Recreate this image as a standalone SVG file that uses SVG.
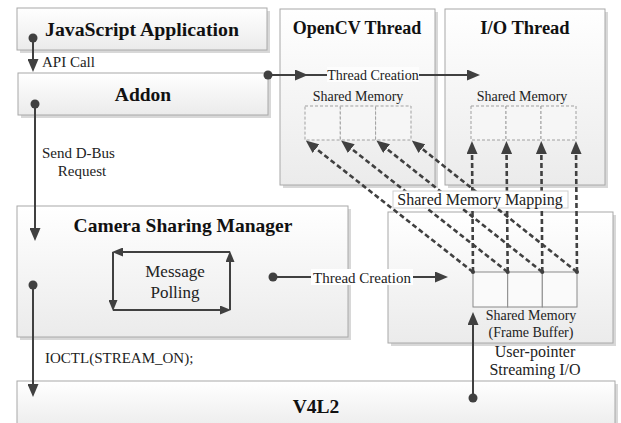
<svg xmlns="http://www.w3.org/2000/svg" width="621" height="423" viewBox="0 0 621 423">
<defs>
<linearGradient id="g" x1="0" y1="0" x2="0" y2="1">
<stop offset="0" stop-color="#ffffff"/>
<stop offset="1" stop-color="#ebebeb"/>
</linearGradient>
<marker id="ah" markerUnits="userSpaceOnUse" markerWidth="13" markerHeight="11" refX="7" refY="5.5" orient="auto" viewBox="0 0 13 11">
<path d="M0,0 L13,5.5 L0,11 Z" fill="#404040"/>
</marker>
<marker id="ahs" markerUnits="userSpaceOnUse" markerWidth="11" markerHeight="9" refX="5" refY="4.5" orient="auto" viewBox="0 0 11 9">
<path d="M0,0 L11,4.5 L0,9 Z" fill="#404040"/>
</marker>
</defs>
<style>
.box{fill:url(#g);stroke:#a8a8a8;stroke-width:1}
.sh{fill:#d8d8d8}
text{font-family:'Liberation Serif',serif}
.title{font-weight:bold;font-size:19.5px;fill:#111;text-anchor:middle}
.t{font-size:15px;fill:#222}
.c{text-anchor:middle}
.ln{stroke:#404040;stroke-width:2;fill:none}
.dl{stroke:#404040;stroke-width:2.6;fill:none;stroke-dasharray:5 3}
.dot{fill:#404040}
.cell{fill:#f6f6f6;stroke:#a0a0a0;stroke-width:1;stroke-dasharray:3 2}
.fb{fill:#fafafa;stroke:#8a8a8a;stroke-width:1}
</style>

<g id="js-app">
<rect class="sh" x="20" y="11" width="250" height="42"/>
<rect class="box" x="17" y="8" width="250" height="42"/>
<text class="title" x="142" y="36" font-family="Liberation Serif, serif" style="font-size:19.8px">JavaScript Application</text>
</g>

<g id="addon">
<rect class="sh" x="21" y="76" width="250" height="42"/>
<rect class="box" x="18" y="73" width="250" height="42"/>
<text class="title" x="143" y="101" font-family="Liberation Serif, serif">Addon</text>
</g>

<g id="opencv-thread">
<rect class="sh" x="283" y="12" width="155" height="176"/>
<rect class="box" x="280" y="9" width="155" height="176"/>
<text class="title" x="357" y="34" font-family="Liberation Serif, serif" style="font-size:18px">OpenCV Thread</text>
<text class="t c" x="358" y="101" font-family="Liberation Serif, serif" style="font-size:14px">Shared Memory</text>
<rect class="cell" x="305" y="106" width="35.3" height="34"/>
<rect class="cell" x="340.3" y="106" width="35.3" height="34"/>
<rect class="cell" x="375.6" y="106" width="35.4" height="34"/>
</g>

<g id="io-thread">
<rect class="sh" x="448" y="12" width="160" height="176"/>
<rect class="box" x="445" y="9" width="160" height="176"/>
<text class="title" x="525" y="34" font-family="Liberation Serif, serif" style="font-size:18.5px">I/O Thread</text>
<text class="t c" x="522" y="101" font-family="Liberation Serif, serif" style="font-size:14px">Shared Memory</text>
<rect class="cell" x="471" y="106" width="35" height="34"/>
<rect class="cell" x="506" y="106" width="35" height="34"/>
<rect class="cell" x="541" y="106" width="35" height="34"/>
</g>

<g id="camera-sharing-manager">
<rect class="sh" x="20" y="209" width="331" height="131"/>
<rect class="box" x="17" y="206" width="331" height="131"/>
<text class="title" x="183" y="232" font-family="Liberation Serif, serif">Camera Sharing Manager</text>
<text class="t c" x="175" y="277" font-family="Liberation Serif, serif" style="font-size:17px">Message</text>
<text class="t c" x="175" y="298" font-family="Liberation Serif, serif" style="font-size:17px">Polling</text>
</g>

<g id="frame-buffer-container">
<rect class="sh" x="391" y="215" width="225" height="131"/>
<rect class="box" x="388" y="212" width="225" height="131"/>
<rect class="fb" x="473" y="272" width="34.7" height="35"/>
<rect class="fb" x="507.7" y="272" width="34.6" height="35"/>
<rect class="fb" x="542.3" y="272" width="34.7" height="35"/>
<text class="t c" x="531" y="320" font-family="Liberation Serif, serif" style="font-size:14px">Shared Memory</text>
<text class="t c" x="531" y="337" font-family="Liberation Serif, serif" style="font-size:14px">(Frame Buffer)</text>
</g>

<g id="v4l2">
<rect class="sh" x="20" y="384" width="598" height="50"/>
<rect class="box" x="17" y="381" width="598" height="50"/>
<text class="title" x="316" y="413" font-family="Liberation Serif, serif">V4L2</text>
</g>

<g id="connectors">
<circle class="dot" cx="33" cy="38" r="4.5"/>
<line class="ln" x1="33" y1="38" x2="33" y2="66" marker-end="url(#ah)"/>
<text class="t" x="42" y="67" font-family="Liberation Serif, serif">API Call</text>
<circle class="dot" cx="35" cy="104" r="4.5"/>
<line class="ln" x1="35" y1="104" x2="35" y2="235" marker-end="url(#ah)"/>
<text class="t" x="42" y="158" font-family="Liberation Serif, serif">Send D-Bus</text>
<text class="t c" x="82" y="176" font-family="Liberation Serif, serif">Request</text>
<circle class="dot" cx="33" cy="285" r="4.5"/>
<line class="ln" x1="33" y1="285" x2="33" y2="391" marker-end="url(#ah)"/>
<text class="t" x="45" y="363" font-family="Liberation Serif, serif">IOCTL(STREAM_ON);</text>
<circle class="dot" cx="268" cy="75" r="4.5"/>
<line class="ln" x1="268" y1="75" x2="302" y2="75" marker-end="url(#ah)"/>
<line class="ln" x1="302" y1="75" x2="474" y2="75" marker-end="url(#ah)"/>
<rect x="327" y="67" width="92" height="15" fill="#fdfdfd"/>
<text class="t c" x="373" y="80" font-family="Liberation Serif, serif" style="font-size:14px">Thread Creation</text>
<circle class="dot" cx="273" cy="277" r="4.5"/>
<line class="ln" x1="273" y1="277" x2="442" y2="277" marker-end="url(#ah)"/>
<rect x="311" y="269" width="102" height="16" fill="#ffffff"/>
<text class="t c" x="362" y="283" font-family="Liberation Serif, serif" style="font-size:15px">Thread Creation</text>
<circle class="dot" cx="473" cy="398" r="4.5"/>
<line class="ln" x1="473" y1="398" x2="473" y2="318" marker-end="url(#ah)"/>
<text class="t c" x="535" y="357" font-family="Liberation Serif, serif" style="font-size:16px">User-pointer</text>
<text class="t c" x="535" y="375" font-family="Liberation Serif, serif" style="font-size:16px">Streaming I/O</text>
<line class="ln" x1="230" y1="252" x2="118" y2="252" marker-end="url(#ahs)"/>
<line class="ln" x1="113" y1="252" x2="113" y2="305" marker-end="url(#ahs)"/>
<line class="ln" x1="113" y1="310" x2="225" y2="310" marker-end="url(#ahs)"/>
<line class="ln" x1="230" y1="310" x2="230" y2="257" marker-end="url(#ahs)"/>
<line class="dl" x1="473" y1="272" x2="310.5" y2="144.3" marker-end="url(#ah)"/>
<line class="dl" x1="507.7" y1="272" x2="345.8" y2="144.3" marker-end="url(#ah)"/>
<line class="dl" x1="542.3" y1="272" x2="381.1" y2="144.3" marker-end="url(#ah)"/>
<line class="dl" x1="577" y1="272" x2="416.5" y2="144.3" marker-end="url(#ah)"/>
<line class="dl" x1="473" y1="272" x2="472" y2="147" marker-end="url(#ah)"/>
<line class="dl" x1="507.7" y1="272" x2="506.5" y2="147" marker-end="url(#ah)"/>
<line class="dl" x1="542.3" y1="272" x2="541.3" y2="147" marker-end="url(#ah)"/>
<line class="dl" x1="577" y1="272" x2="576" y2="147" marker-end="url(#ah)"/>
<circle class="dot" cx="473" cy="272" r="2"/>
<circle class="dot" cx="507.7" cy="272" r="2"/>
<circle class="dot" cx="542.3" cy="272" r="2"/>
<circle class="dot" cx="577" cy="272" r="2"/>
<rect x="393" y="191" width="175" height="17" fill="#ffffff" stroke="#d0d0d0" stroke-width="1"/>
<text class="t c" x="480" y="205" font-family="Liberation Serif, serif" style="font-size:16px">Shared Memory Mapping</text>
</g>
</svg>
